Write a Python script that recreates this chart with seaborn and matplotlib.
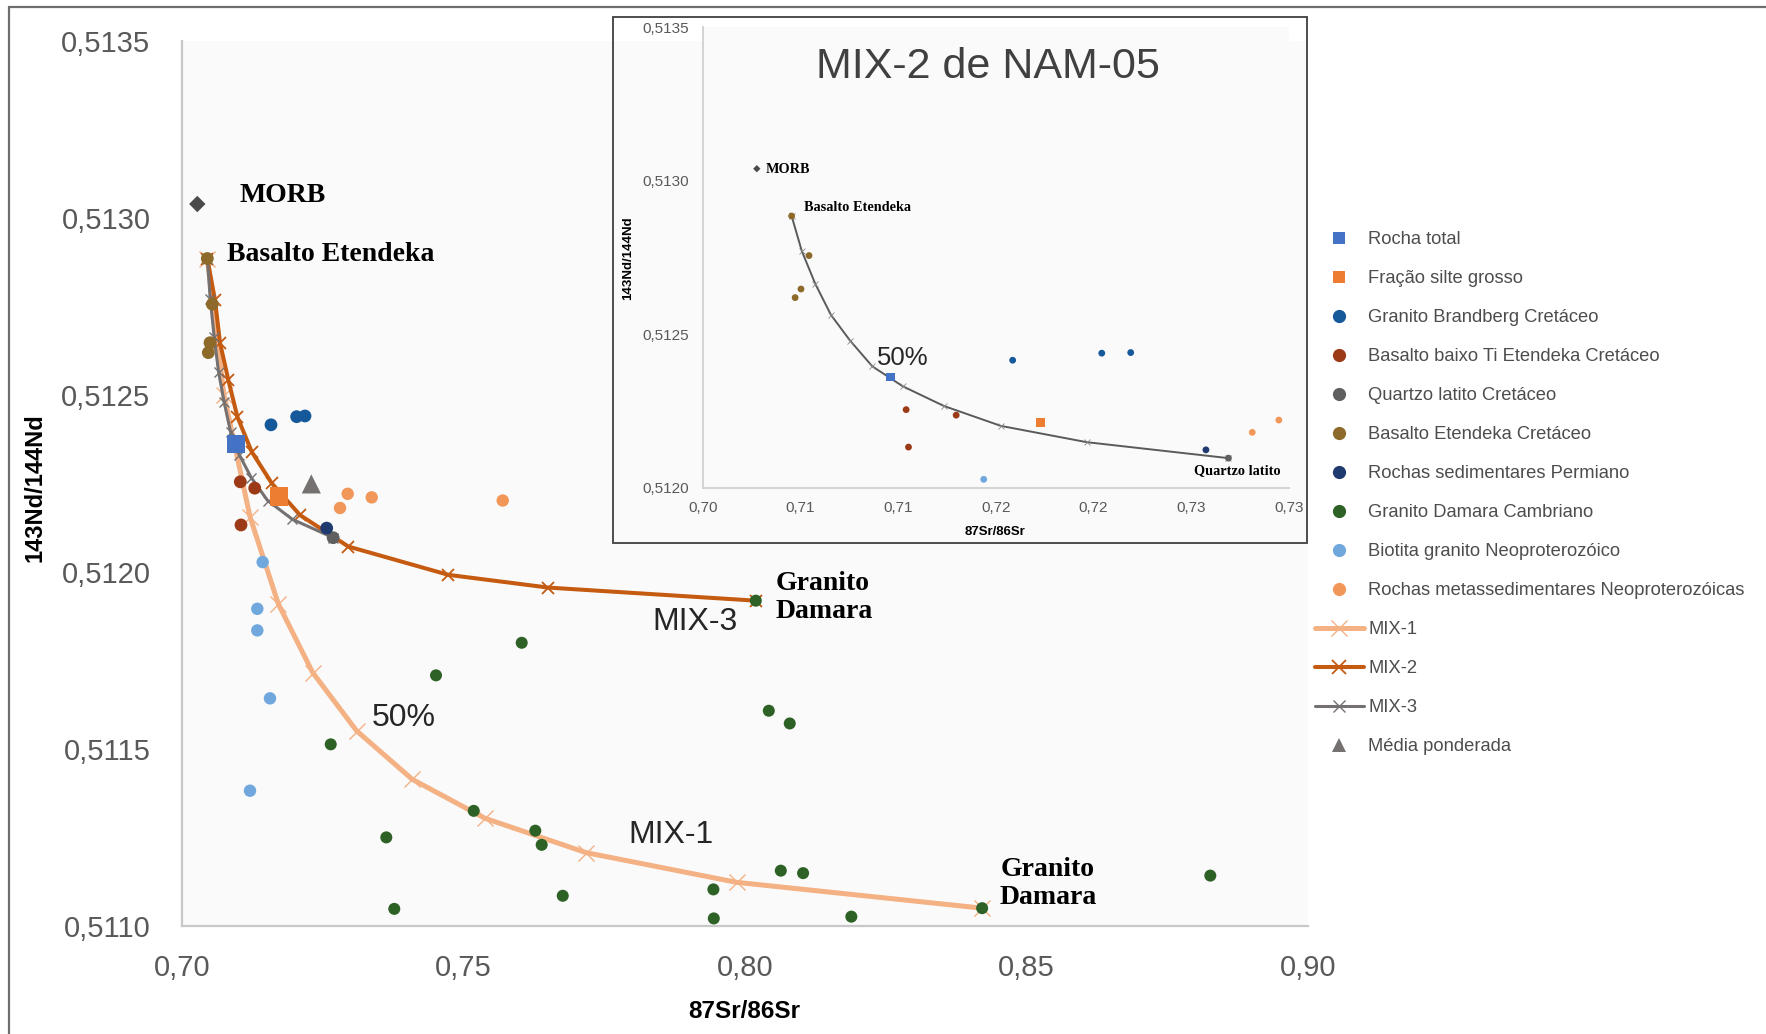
import matplotlib
matplotlib.use("Agg")
import matplotlib.pyplot as plt
import seaborn as sns
import numpy as np
from matplotlib.lines import Line2D
from matplotlib.patches import Rectangle
from matplotlib.ticker import MultipleLocator

# ---------------- data ----------------
rocha_total_x = [0.70959]
rocha_total_y = [0.512360]
fracao_x = [0.71728]
fracao_y = [0.512212]
brandberg_x = [0.71586, 0.72042, 0.72190]
brandberg_y = [0.512415, 0.512438, 0.512440]
baixo_ti_x = [0.71041, 0.71297, 0.71053]
baixo_ti_y = [0.512254, 0.512236, 0.512132]
quartzo_x = [0.72690]
quartzo_y = [0.512096]
etendeka_x = [0.70455, 0.70544, 0.70503, 0.70473]
etendeka_y = [0.512885, 0.512756, 0.512647, 0.512619]
permiano_x = [0.72575]
permiano_y = [0.512123]
damara_x = [0.80197, 0.76039, 0.74517, 0.72647, 0.80428, 0.80800, 0.75187,
            0.76281, 0.76394, 0.73634, 0.80641, 0.81037, 0.79444, 0.76768,
            0.73776, 0.79451, 0.81894, 0.84217, 0.88270]
damara_y = [0.511918, 0.511799, 0.511707, 0.511512, 0.511607, 0.511571, 0.511324,
            0.511268, 0.511228, 0.511249, 0.511155, 0.511148, 0.511102, 0.511084,
            0.511047, 0.511020, 0.511025, 0.511049, 0.511141]
biotita_x = [0.71438, 0.71343, 0.71343, 0.71568, 0.71213]
biotita_y = [0.512027, 0.511895, 0.511834, 0.511642, 0.511381]
metassed_x = [0.72948, 0.73375, 0.72812, 0.75702]
metassed_y = [0.512220, 0.512210, 0.512180, 0.512201]
media_x = [0.72302]
media_y = [0.512248]
morb_x = [0.70277]
morb_y = [0.513039]

mix1_x = [0.70455, 0.70750, 0.71213, 0.71716, 0.72326, 0.73108, 0.74096,
          0.75387, 0.77181, 0.79856, 0.84217]
mix1_y = [0.512885, 0.512500, 0.512155, 0.511909, 0.511715, 0.511550, 0.511413,
          0.511303, 0.511206, 0.511122, 0.511049]
mix2_x = [0.70455, 0.70591, 0.70680, 0.70828, 0.70988, 0.71243, 0.71599,
          0.72101, 0.72960, 0.74736, 0.76512, 0.80197]
mix2_y = [0.512885, 0.512768, 0.512647, 0.512542, 0.512438, 0.512339, 0.512250,
          0.512160, 0.512071, 0.511991, 0.511955, 0.511918]
mix3_x = [0.70455, 0.70507, 0.70576, 0.70656, 0.70754, 0.70868, 0.71024,
          0.71234, 0.71526, 0.71965, 0.72690]
mix3_y = [0.512885, 0.512771, 0.512664, 0.512563, 0.512479, 0.512395, 0.512330,
          0.512266, 0.512201, 0.512148, 0.512096]

main_xticks = [0.70, 0.75, 0.80, 0.85, 0.90]
main_xticklabels = ["0,70", "0,75", "0,80", "0,85", "0,90"]
main_yticks = [0.5110, 0.5115, 0.5120, 0.5125, 0.5130, 0.5135]
main_yticklabels = ["0,5110", "0,5115", "0,5120", "0,5125", "0,5130", "0,5135"]
inset_xticks = [0.700, 0.705, 0.710, 0.715, 0.720, 0.725, 0.730]
inset_xticklabels = ["0,70", "0,71", "0,71", "0,72", "0,72", "0,73", "0,73"]
inset_yticks = [0.5120, 0.5125, 0.5130, 0.5135]
inset_yticklabels = ["0,5120", "0,5125", "0,5130", "0,5135"]

# ---------------- styling ----------------
sns.set_theme(style="white")
plt.rcParams["font.family"] = ["Liberation Sans", "DejaVu Sans"]

C_ROCHA = "#4472C4"
C_FRACAO = "#ED7D31"
C_BRAND = "#16599A"
C_BAIXO = "#9C3A17"
C_QUARTZO = "#5F5F5F"
C_ETEND = "#8D6A2A"
C_PERM = "#1F3A6E"
C_DAMARA = "#2E6126"
C_BIOT = "#70A8DE"
C_META = "#F2975A"
C_MIX1 = "#F4B183"
C_MIX2 = "#C55A11"
C_MIX3 = "#757171"
C_MEDIA = "#757171"
C_MORB = "#4A4A4A"

fig = plt.figure(figsize=(17.66, 10.34), dpi=100)
fig.patch.set_facecolor("white")

ax = fig.add_axes([0.10289, 0.10493, 0.6376, 0.85551])
ax.set_facecolor("#FAFAFA")

# mixing curves
line_specs = [
    (mix1_x, mix1_y, C_MIX1, 3.6, 11, 1.0),
    (mix2_x, mix2_y, C_MIX2, 2.9, 8, 1.3),
    (mix3_x, mix3_y, C_MIX3, 2.2, 7, 1.0),
]
for xs, ys, c, lw, ms, mew in line_specs:
    sns.lineplot(x=xs, y=ys, sort=False, estimator=None, color=c, lw=lw,
                 marker="x", markersize=ms, markeredgewidth=mew,
                 markeredgecolor=c, ax=ax, zorder=3, legend=False)

# point series
pt_specs = [
    (rocha_total_x, rocha_total_y, C_ROCHA, "s", 175),
    (fracao_x, fracao_y, C_FRACAO, "s", 175),
    (brandberg_x, brandberg_y, C_BRAND, "o", 85),
    (baixo_ti_x, baixo_ti_y, C_BAIXO, "o", 85),
    (quartzo_x, quartzo_y, C_QUARTZO, "o", 85),
    (etendeka_x, etendeka_y, C_ETEND, "o", 85),
    (permiano_x, permiano_y, C_PERM, "o", 85),
    (damara_x, damara_y, C_DAMARA, "o", 75),
    (biotita_x, biotita_y, C_BIOT, "o", 80),
    (metassed_x, metassed_y, C_META, "o", 80),
    (media_x, media_y, C_MEDIA, "^", 190),
    (morb_x, morb_y, C_MORB, "D", 70),
]
for xs, ys, c, m, s in pt_specs:
    sns.scatterplot(x=xs, y=ys, color=c, marker=m, s=s, linewidth=0,
                    edgecolor="none", ax=ax, zorder=5, legend=False)

ax.set_xlim(0.70, 0.90)
ax.set_ylim(0.5110, 0.5135)
ax.set_xticks(main_xticks, labels=main_xticklabels)
ax.set_yticks(main_yticks, labels=main_yticklabels)
ax.xaxis.set_minor_locator(MultipleLocator(0.01))
ax.yaxis.set_minor_locator(MultipleLocator(0.0001))
for side in ["top", "right"]:
    ax.spines[side].set_visible(False)
for side in ["left", "bottom"]:
    ax.spines[side].set_color("#C8C8C8")
    ax.spines[side].set_linewidth(1.6)
ax.tick_params(which="both", direction="inout", length=13, width=1.2,
               color="#C4C4C4")
ax.tick_params(axis="y", which="major", labelsize=21, labelcolor="#595959", pad=16)
ax.tick_params(axis="x", which="major", labelsize=21, labelcolor="#595959", pad=14)
ax.grid(False)

ax.set_xlabel("87Sr/86Sr", fontsize=17.5, fontweight="bold", color="black")
ax.xaxis.set_label_coords(0.4994, -0.0974)
ax.xaxis.label.set_va("center")
ax.set_ylabel("143Nd/144Nd", fontsize=17, fontweight="bold", color="black")
ax.yaxis.set_label_coords(-0.1303, 0.4946)
ax.yaxis.label.set_va("center")

serif = ["Liberation Serif", "DejaVu Serif"]
ax.text(0.71023, 0.513062, "MORB", family=serif, fontweight="bold",
        fontsize=20, ha="left", va="center", color="black")
ax.text(0.70810, 0.512895, "Basalto Etendeka", family=serif, fontweight="bold",
        fontsize=20, ha="left", va="center", color="black")
ax.text(0.80545, 0.511927, "Granito\nDamara", family=serif, fontweight="bold",
        fontsize=20, ha="left", va="center", color="black", linespacing=1.15)
ax.text(0.85387, 0.511119, "Granito\nDamara", family=serif, fontweight="bold",
        fontsize=20, ha="center", va="center", color="black", linespacing=1.15)
ax.text(0.79117, 0.511859, "MIX-3", fontsize=23, ha="center", va="center",
        color="#262626")
ax.text(0.78682, 0.511256, "MIX-1", fontsize=23, ha="center", va="center",
        color="#262626")
ax.text(0.73936, 0.511586, "50%", fontsize=23, ha="center", va="center",
        color="#262626")

# ---------------- inset ----------------
frame = Rectangle((0.34694, 0.47456), 0.39298, 0.50929, transform=fig.transFigure,
                  fill=False, edgecolor="#3F3F3F", linewidth=1.3, zorder=10)
fig.add_artist(frame)

axi = fig.add_axes([0.39790, 0.52843, 0.33200, 0.44526])
axi.set_facecolor("#FAFAFA")
sns.lineplot(x=mix3_x, y=mix3_y, sort=False, estimator=None, color="#5A5A5A",
             lw=1.4, marker="x", markersize=4, markeredgewidth=0.6,
             markeredgecolor="#8A8A8A", ax=axi, zorder=3, legend=False)
inset_pts = [
    (rocha_total_x, rocha_total_y, C_ROCHA, "s", 40),
    (fracao_x, fracao_y, C_FRACAO, "s", 40),
    (brandberg_x, brandberg_y, C_BRAND, "o", 24),
    (baixo_ti_x, baixo_ti_y, C_BAIXO, "o", 24),
    (quartzo_x, quartzo_y, C_QUARTZO, "o", 24),
    (etendeka_x, etendeka_y, C_ETEND, "o", 24),
    (permiano_x, permiano_y, C_PERM, "o", 24),
    (damara_x, damara_y, C_DAMARA, "o", 24),
    (biotita_x, biotita_y, C_BIOT, "o", 24),
    (metassed_x, metassed_y, C_META, "o", 24),
    (morb_x, morb_y, C_MORB, "D", 14),
]
for xs, ys, c, m, s in inset_pts:
    sns.scatterplot(x=xs, y=ys, color=c, marker=m, s=s, linewidth=0,
                    edgecolor="none", ax=axi, zorder=5, legend=False)
axi.set_xlim(0.70, 0.73)
axi.set_ylim(0.5120, 0.5135)
axi.set_xticks(inset_xticks, labels=inset_xticklabels)
axi.set_yticks(inset_yticks, labels=inset_yticklabels)
axi.xaxis.set_minor_locator(MultipleLocator(0.001))
axi.yaxis.set_minor_locator(MultipleLocator(0.0001))
for side in ["top", "right"]:
    axi.spines[side].set_visible(False)
for side in ["left", "bottom"]:
    axi.spines[side].set_color("#D0D0D0")
    axi.spines[side].set_linewidth(1.3)
axi.tick_params(which="both", direction="inout", length=7.5, width=1.0,
                color="#C8C8C8")
axi.tick_params(axis="both", which="major", labelsize=11, labelcolor="#595959", pad=6)
axi.grid(False)

fig.text(0.35544, 0.75048, "143Nd/144Nd", rotation=90, fontsize=9.5,
         fontweight="bold", ha="center", va="center", color="black")
fig.text(0.56342, 0.48511, "87Sr/86Sr", fontsize=9.5, fontweight="bold",
         ha="center", va="center", color="black")
axi.text(0.71460, 0.513370, "MIX-2 de NAM-05", fontsize=31, ha="center",
         va="center", color="#404040")
axi.text(0.70324, 0.513035, "MORB", family=serif, fontweight="bold",
         fontsize=10.3, ha="left", va="center", color="black")
axi.text(0.70518, 0.512913, "Basalto Etendeka", family=serif, fontweight="bold",
         fontsize=10.3, ha="left", va="center", color="black")
axi.text(0.71022, 0.512423, "50%", fontsize=18.5, ha="center", va="center",
         color="#262626")
axi.text(0.72735, 0.512055, "Quartzo latito", family=serif, fontweight="bold",
         fontsize=10.3, ha="center", va="center", color="black")

# ---------------- legend ----------------
legend_labels = ["Rocha total", "Fração silte grosso", "Granito Brandberg Cretáceo",
                 "Basalto baixo Ti Etendeka Cretáceo", "Quartzo latito Cretáceo",
                 "Basalto Etendeka Cretáceo", "Rochas sedimentares Permiano",
                 "Granito Damara Cambriano", "Biotita granito Neoproterozóico",
                 "Rochas metassedimentares Neoproterozóicas", "MIX-1", "MIX-2",
                 "MIX-3", "Média ponderada"]
legend_styles = [
    (C_ROCHA, "s", 9.0), (C_FRACAO, "s", 9.0), (C_BRAND, "o", 9.5),
    (C_BAIXO, "o", 9.5), (C_QUARTZO, "o", 9.5), (C_ETEND, "o", 9.5),
    (C_PERM, "o", 9.5), (C_DAMARA, "o", 9.5), (C_BIOT, "o", 9.5),
    (C_META, "o", 9.5),
]
handles = []
for c, m, ms in legend_styles:
    handles.append(Line2D([], [], color=c, marker=m, linestyle="none",
                          markersize=ms, markeredgewidth=0))
handles.append(Line2D([], [], color=C_MIX1, lw=3.6, marker="x", markersize=11,
                      markeredgewidth=1.0, markeredgecolor=C_MIX1))
handles.append(Line2D([], [], color=C_MIX2, lw=2.9, marker="x", markersize=10,
                      markeredgewidth=1.3, markeredgecolor=C_MIX2))
handles.append(Line2D([], [], color=C_MIX3, lw=2.2, marker="x", markersize=9,
                      markeredgewidth=1.0, markeredgecolor=C_MIX3))
handles.append(Line2D([], [], color=C_MEDIA, marker="^", linestyle="none",
                      markersize=10, markeredgewidth=0))
fig.legend(handles, legend_labels, loc="upper left",
           bbox_to_anchor=(0.7405, 0.7835), frameon=False, fontsize=13.2,
           labelcolor="#4D4D4D", labelspacing=1.2, handlelength=2.65,
           handletextpad=0.25, borderpad=0.4, borderaxespad=0.0)

# figure border lines (top and left)
fig.add_artist(Line2D([0.00527, 1.0], [0.99352, 0.99352], transform=fig.transFigure,
                      color="#6E6E6E", lw=1.6))
fig.add_artist(Line2D([0.00527, 0.00527], [0.0, 0.99352], transform=fig.transFigure,
                      color="#6E6E6E", lw=1.6))

fig.savefig("out.png", dpi=100, facecolor="white")
